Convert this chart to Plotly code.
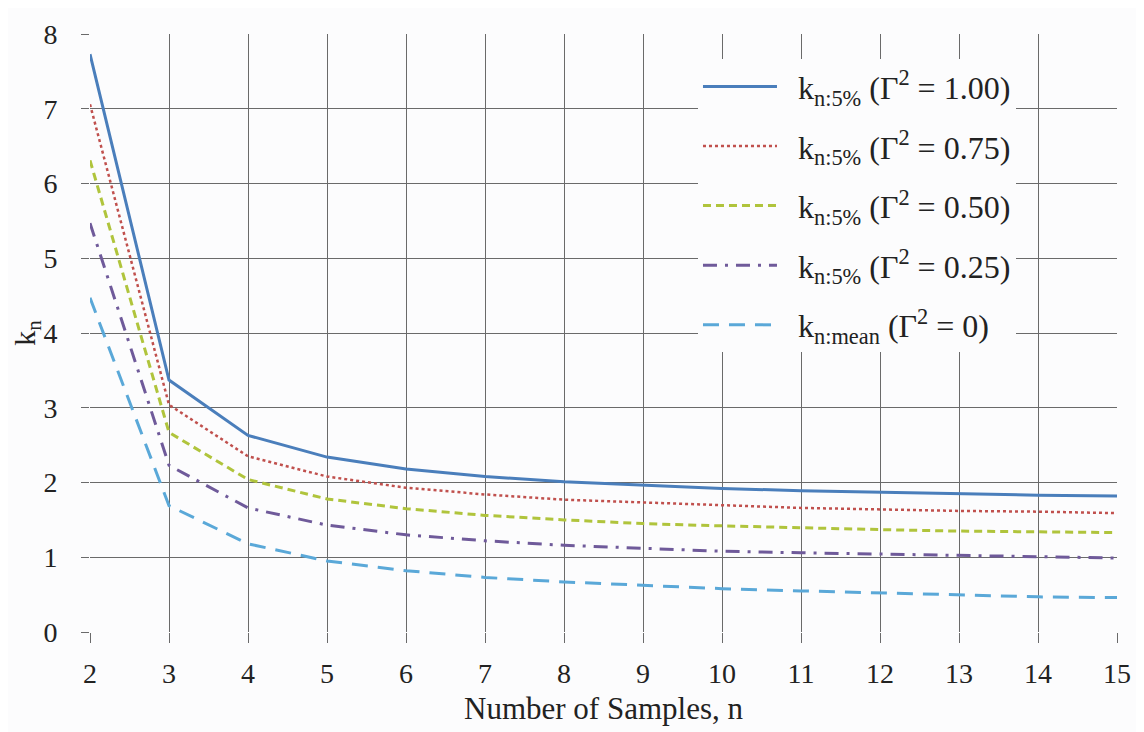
import plotly.graph_objects as go

n_samples = [2, 3, 4, 5, 6, 7, 8, 9, 10, 11, 12, 13, 14, 15]
k_g100 = [7.73, 3.37, 2.63, 2.34, 2.18, 2.08, 2.01, 1.96, 1.92, 1.89, 1.87, 1.85, 1.83, 1.82]
k_g075 = [7.06, 3.04, 2.35, 2.08, 1.93, 1.84, 1.77, 1.73, 1.69, 1.66, 1.64, 1.62, 1.61, 1.59]
k_g050 = [6.31, 2.67, 2.04, 1.78, 1.65, 1.56, 1.50, 1.45, 1.42, 1.39, 1.37, 1.35, 1.34, 1.33]
k_g025 = [5.47, 2.23, 1.66, 1.43, 1.30, 1.22, 1.16, 1.12, 1.08, 1.06, 1.04, 1.02, 1.00, 0.99]
k_mean = [4.47, 1.69, 1.18, 0.95, 0.82, 0.73, 0.67, 0.62, 0.58, 0.55, 0.52, 0.49, 0.47, 0.46]

series_names = [
    "&nbsp;&nbsp;k<sub>n:5%</sub> (Γ<sup>2</sup> = 1.00)",
    "&nbsp;&nbsp;k<sub>n:5%</sub> (Γ<sup>2</sup> = 0.75)",
    "&nbsp;&nbsp;k<sub>n:5%</sub> (Γ<sup>2</sup> = 0.50)",
    "&nbsp;&nbsp;k<sub>n:5%</sub> (Γ<sup>2</sup> = 0.25)",
    "&nbsp;&nbsp;k<sub>n:mean</sub> (Γ<sup>2</sup> = 0)",
]
series_values = [k_g100, k_g075, k_g050, k_g025, k_mean]
colors = ["#4a7ebb", "#c0504d", "#b0c43c", "#6f5a9a", "#5aa8d8"]
dashes = ["solid", "dot", "8px,5px", "14px,8px,3px,8px", "16px,10px"]
widths = [3, 2.5, 3, 3, 3]

font_family = "Liberation Serif"

fig = go.Figure()
for i, (name, vals) in enumerate(zip(series_names, series_values)):
    fig.add_trace(go.Scatter(
        x=n_samples, y=vals, mode="lines", name=name,
        legendgroup=f"g{i}",
        line=dict(color=colors[i], dash=dashes[i], width=widths[i]),
    ))

fig.update_layout(
    width=1144, height=732,
    margin=dict(l=82, r=35, t=11, b=108),
    paper_bgcolor="#fcfcfd",
    plot_bgcolor="#fcfcfd",
    font=dict(family=font_family, size=28, color="#222222"),
    showlegend=True,
    legend=dict(
        x=0.592, y=0.958, xanchor="left", yanchor="top",
        bgcolor="#fcfcfd", borderwidth=0,
        font=dict(family=font_family, size=32, color="#222222"),
        tracegroupgap=15,
        itemwidth=74,
    ),
    xaxis=dict(
        range=[2, 15], tickmode="array", tickvals=n_samples,
        showgrid=True, gridcolor="#6a6a6a", gridwidth=1,
        zeroline=False, showline=False,
        ticks="outside", ticklen=10, tickcolor="#6a6a6a",
        ticklabelstandoff=6, ticklabeloverflow="allow",
        title=dict(text="Number of Samples, n", font=dict(size=31), standoff=9),
    ),
    yaxis=dict(
        range=[0, 8], dtick=1,
        showgrid=True, gridcolor="#6a6a6a", gridwidth=1,
        zeroline=False, showline=False,
        ticks="outside", ticklen=8, tickcolor="#6a6a6a",
        ticklabelstandoff=18, ticklabeloverflow="allow",
        title=dict(text="k<sub>n</sub>", font=dict(size=30), standoff=0),
    ),
)

fig.write_html("out.html")
